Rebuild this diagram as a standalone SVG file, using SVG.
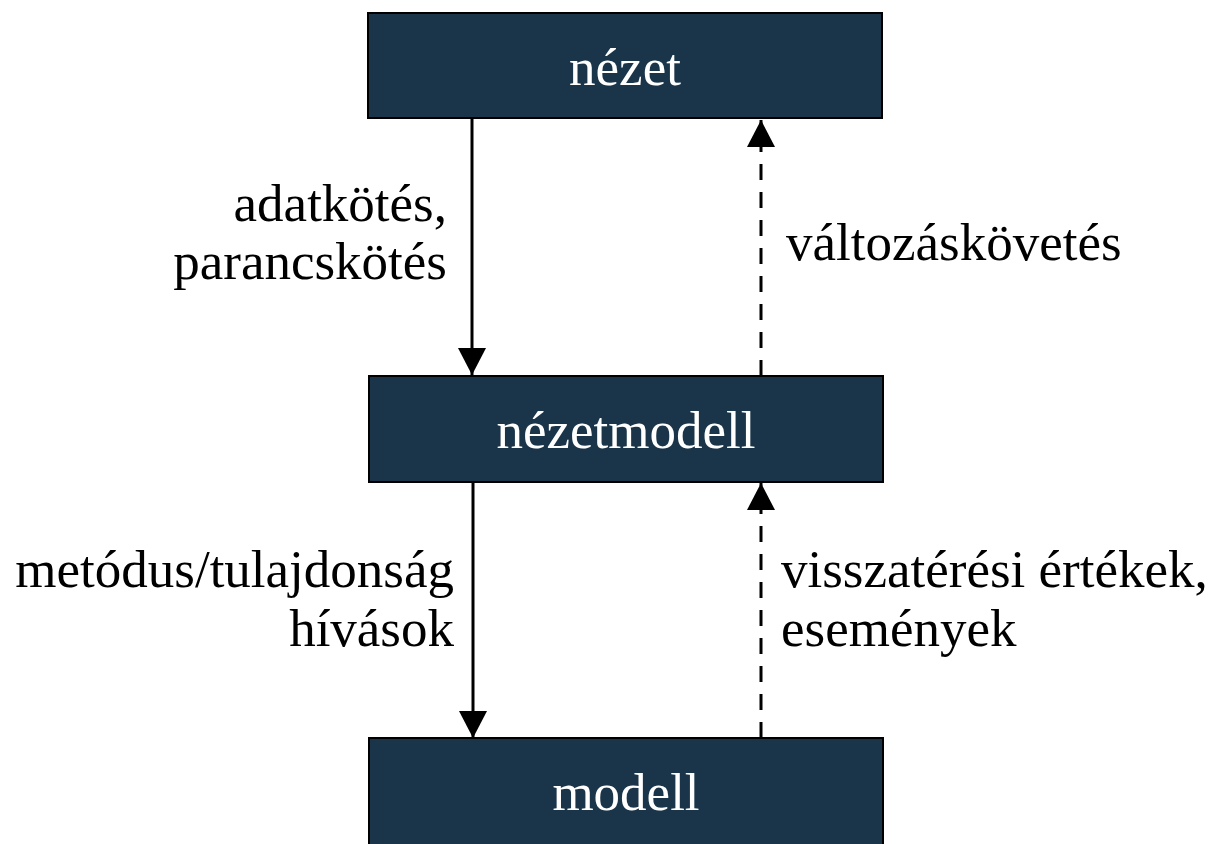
<svg xmlns="http://www.w3.org/2000/svg" width="1211" height="844" viewBox="0 0 1211 844">
<style>
.box{fill:#1a3549;stroke:#000;stroke-width:2}
.bt{font-family:"Liberation Serif","Times New Roman",serif;font-size:53px;fill:#fff;text-anchor:middle}
.lb{font-family:"Liberation Serif","Times New Roman",serif;font-size:53px;fill:#000}
.solid{stroke:#000;stroke-width:3;fill:none}
.dash{stroke:#000;stroke-width:3;fill:none;stroke-dasharray:16 12}
</style>
<defs>
<marker id="ah" markerUnits="userSpaceOnUse" markerWidth="28" markerHeight="28" viewBox="0 0 28 28" refX="27" refY="14" orient="auto">
<path d="M0,0 L27,14 L0,28 Z" fill="#000"/>
</marker>
</defs>
<rect width="1211" height="844" fill="#fff"/>
<g id="connectors">
<line class="solid" x1="472" y1="119" x2="472" y2="375" marker-end="url(#ah)"/>
<line class="solid" x1="473" y1="483" x2="473" y2="738" marker-end="url(#ah)"/>
<line class="dash" x1="761" y1="376" x2="761" y2="120" marker-end="url(#ah)"/>
<line class="dash" x1="761" y1="738" x2="761" y2="483" marker-end="url(#ah)"/>
</g>
<g id="node-nezet">
<rect class="box" x="368" y="13" width="514" height="105"/>
<text class="bt" x="625" y="85">nézet</text>
</g>
<g id="node-nezetmodell">
<rect class="box" x="369" y="376" width="514" height="106"/>
<text class="bt" x="626" y="448">nézetmodell</text>
</g>
<g id="node-modell">
<rect class="box" x="369" y="738" width="514" height="110"/>
<text class="bt" x="626" y="810">modell</text>
</g>
<g id="labels">
<text class="lb" text-anchor="end" x="447" y="221">adatkötés,</text>
<text class="lb" text-anchor="end" x="447" y="279">parancskötés</text>
<text class="lb" x="786" y="260">változáskövetés</text>
<text class="lb" text-anchor="end" x="454" y="587">metódus/tulajdonság</text>
<text class="lb" text-anchor="end" x="454" y="646">hívások</text>
<text class="lb" x="781" y="587">visszatérési értékek,</text>
<text class="lb" x="781" y="646">események</text>
</g>
</svg>
